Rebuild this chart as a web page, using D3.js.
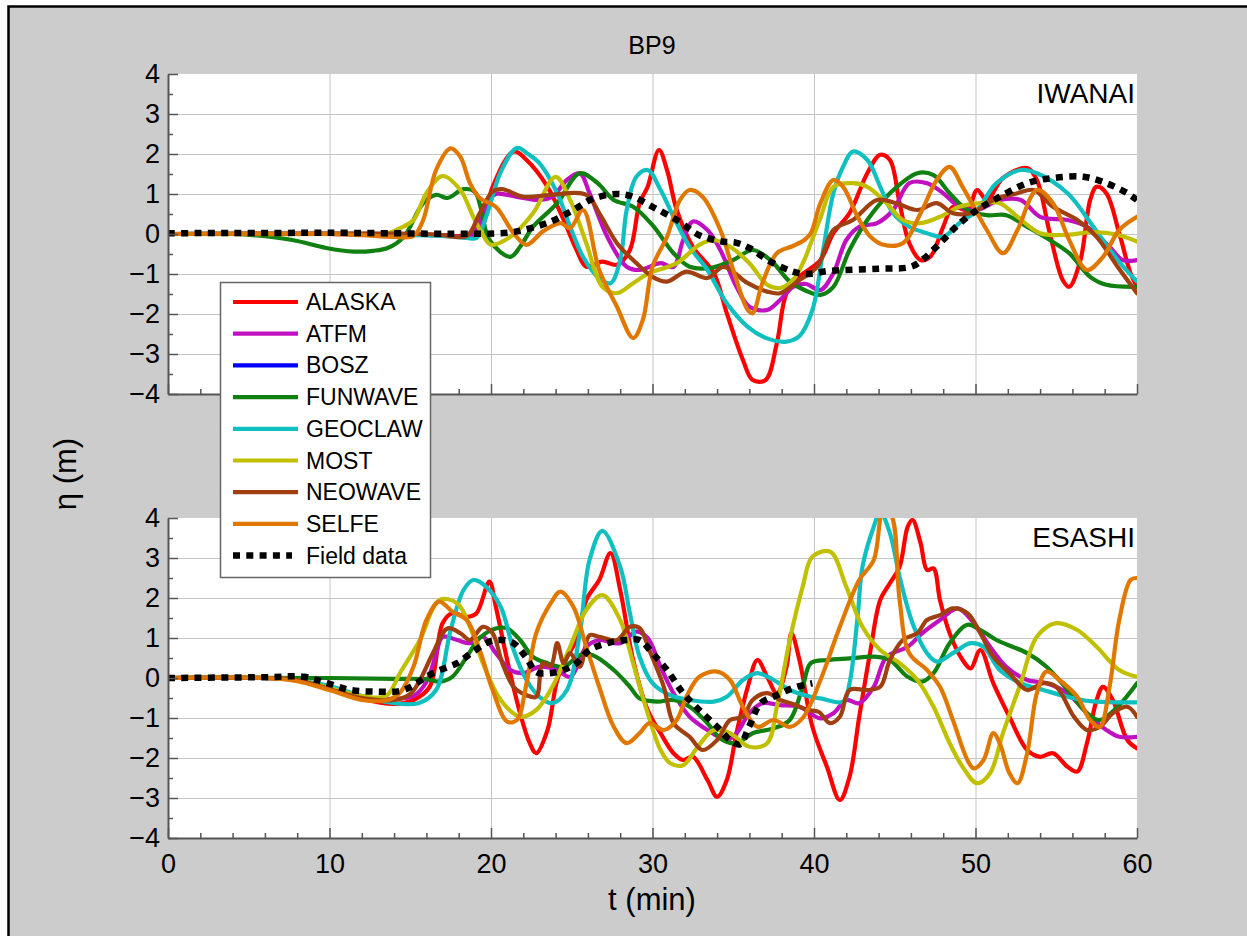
<!DOCTYPE html>
<html>
<head>
<meta charset="utf-8">
<script src="https://cdn.jsdelivr.net/npm/d3@7"></script>
<style>
  body { margin: 0; background: #fff; }
  svg { display: block; }
  text { font-family: "Liberation Sans", Arial, Helvetica, sans-serif; fill: #000; }
</style>
</head>
<body>
<svg id="chart" width="1247" height="936"></svg>
<script>
// ---- data: surface elevation eta (m) against time t (min) ----
const chartTitle = "BP9";
const xTicks = [0, 10, 20, 30, 40, 50, 60];
const yTicks = [-4, -3, -2, -1, 0, 1, 2, 3, 4];
const modelNames = ["ALASKA", "ATFM", "BOSZ", "FUNWAVE", "GEOCLAW", "MOST", "NEOWAVE", "SELFE"];
const fieldName = "Field data";
const stationNames = ["IWANAI", "ESASHI"];

// IWANAI gauge
const iwAlaska = [[0,0],[10,0],[16,-0.02],[18,-0.05],[19.3,0.1],[20.1,1.18],[21.4,2.06],[22.2,1.85],[23.5,1.18],[24.5,0.35],[25.3,-0.4],[25.9,-0.82],[26.9,-0.69],[27.8,-0.77],[28.6,-0.4],[29.2,0.77],[29.7,1.18],[30.4,2.1],[30.9,1.6],[31.5,0.6],[32.5,-0.32],[33.8,-0.98],[34.6,-1.98],[35.6,-3.15],[36.2,-3.65],[37,-3.65],[37.7,-2.73],[38.3,-1.48],[39.1,-1.07],[40.4,-0.65],[41.2,0.02],[42.2,0.52],[43.3,1.52],[44.1,1.98],[44.7,1.85],[45.3,0.77],[45.9,-0.23],[46.6,-0.65],[47.2,-0.57],[48,0.18],[48.6,0.68],[49.5,0.6],[50.1,1.1],[50.7,0.85],[51.7,1.4],[53.2,1.65],[53.8,1.35],[54.6,0.02],[55.4,-1.15],[55.8,-1.32],[56.5,-0.65],[57.1,0.85],[57.5,1.18],[58.1,1.02],[58.9,0.02],[59.6,-0.98],[60,-1.32]];
const iwAtfm = [[0,0],[10,0],[17,-0.03],[18.8,-0.05],[19.3,0.3],[19.9,0.85],[20.3,1.0],[21.6,0.93],[23,0.85],[23.8,0.93],[24.7,1.35],[25.5,1.52],[26.1,1.02],[27.2,-0.07],[28.4,-0.82],[29.2,-0.9],[30.5,-0.73],[31.3,-0.82],[31.9,-0.15],[32.5,0.31],[33.4,0.1],[34.2,-0.4],[35.2,-1.32],[36,-1.82],[37.1,-1.9],[37.9,-1.65],[38.7,-1.32],[39.5,-1.25],[40.4,-1.4],[41.2,-0.98],[42,-0.15],[42.8,0.18],[43.9,0.27],[44.9,0.6],[45.9,1.27],[47,1.27],[48,1.02],[49,0.68],[50.1,0.6],[51.5,0.85],[52.8,0.85],[54,0.43],[55.7,0.35],[56.9,0.18],[58.3,-0.32],[59.1,-0.65],[60,-0.65]];
const iwBosz = [];
const iwFunwave = [[0,0],[4,0],[5,-0.02],[7.7,-0.15],[9.8,-0.35],[11.5,-0.44],[12.7,-0.42],[13.6,-0.35],[14.6,-0.07],[15.8,0.77],[16.6,0.98],[17.3,0.9],[18.3,1.12],[19,1.05],[19.4,0.6],[19.9,-0.15],[21.2,-0.57],[21.8,-0.32],[22.6,0.18],[24.1,0.77],[25.5,1.52],[26.6,1.27],[27.6,0.85],[28.8,0.68],[30,0.22],[31.3,-0.48],[32.3,-0.82],[33.6,-0.85],[35,-0.65],[36.2,-0.4],[37.3,-0.65],[38.5,-1.19],[39.4,-1.4],[40.4,-1.52],[41.2,-1.32],[42.2,-0.4],[43.3,0.35],[44.7,1.02],[46.4,1.52],[47.4,1.47],[48.4,1.02],[49.5,0.6],[50.7,0.47],[51.9,0.47],[53.2,0.18],[54.6,-0.15],[55.8,-0.48],[57.1,-1.07],[58.1,-1.27],[60,-1.32]];
const iwGeoclaw = [[0,0],[10,0],[17,-0.05],[18.5,-0.1],[19.1,-0.1],[19.7,0.43],[20.6,1.55],[21.6,2.15],[22.3,2.0],[23,1.77],[24.1,1.02],[24.9,0.18],[25.7,-0.57],[26.6,-1.07],[27.4,-1.23],[28,-0.65],[28.4,0.6],[29,1.43],[29.7,1.6],[30.5,1.1],[31.3,0.43],[32.3,-0.32],[33.4,-0.9],[34.6,-1.73],[35.9,-2.32],[37.1,-2.61],[38.3,-2.69],[39.1,-2.55],[39.9,-1.9],[40.6,-0.32],[41.2,1.02],[41.8,1.68],[42.4,2.06],[43.3,1.85],[44.1,1.18],[44.9,0.52],[45.9,0.18],[47,0.02],[48,-0.07],[49,0.27],[50.1,0.6],[51.3,1.27],[52.8,1.6],[53.8,1.52],[55.7,1.02],[57.3,0.18],[58.8,-0.65],[60,-1.19]];
const iwMost = [[0,0],[12,0],[13.6,0.02],[14.4,0.15],[15.2,0.35],[16,1.02],[17,1.45],[18.1,1.1],[18.9,0.43],[19.4,0.05],[20,-0.27],[21.2,-0.07],[22.6,0.52],[24,1.43],[24.9,0.85],[25.9,-0.23],[26.9,-1.32],[27.8,-1.48],[28.8,-1.23],[29.8,-0.98],[31.5,-0.73],[32.9,-0.27],[33.8,-0.15],[34.8,-0.32],[36,-0.73],[37.1,-1.27],[37.9,-1.35],[38.7,-1.15],[39.4,-0.65],[39.8,-0.23],[40.4,0.4],[41.2,1.18],[42.4,1.27],[43.3,1.18],[44.5,0.77],[45.5,0.35],[46.6,0.27],[47.8,0.43],[49,0.68],[50.3,0.77],[51.5,0.77],[52.6,0.43],[54,0.02],[55.7,-0.02],[57.3,0.05],[58.8,-0.02],[60,-0.19]];
const iwNeowave = [[0,0],[16,0],[17,-0.03],[18.5,-0.05],[19.3,0.52],[20.1,1.06],[20.7,1.12],[22,0.93],[23.7,0.98],[25.9,0.98],[26.7,0.52],[27.8,-0.23],[28.8,-0.65],[30,-1.07],[30.9,-1.19],[32.1,-0.94],[33.4,-1.1],[34.4,-0.82],[35.9,-1.23],[37.1,-1.44],[37.9,-1.48],[39.1,-1.15],[40.2,-0.82],[41.2,0.1],[42.4,0.35],[43.9,0.85],[45.1,0.77],[46.4,0.6],[47.6,0.77],[48.6,0.52],[49.7,0.52],[51.1,0.85],[52.6,1.02],[53.6,1.1],[54.8,0.68],[56.3,0.35],[57.5,-0.07],[58.8,-0.82],[60,-1.48]];
const iwSelfe = [[0,0],[10,0],[12,-0.03],[14,-0.07],[15.2,-0.05],[15.8,0.35],[16.6,1.6],[17.5,2.14],[18.1,1.93],[18.7,1.27],[19.3,0.9],[20.3,0.68],[21.4,0.02],[22.2,-0.27],[23.2,0.06],[24.3,0.27],[24.9,0.15],[25.7,0.6],[26.7,-0.9],[27.8,-1.82],[28.8,-2.6],[29.4,-2.15],[30,-0.82],[30.9,-0.07],[31.7,0.85],[32.3,1.1],[33.1,0.93],[34.2,0.1],[35,-0.9],[35.9,-1.9],[36.2,-1.98],[36.8,-1.23],[37.7,-0.48],[38.7,-0.3],[39.4,-0.15],[39.8,0.02],[40.4,0.77],[41.2,1.35],[41.8,1.18],[42.7,0.43],[43.5,-0.07],[44.3,-0.27],[45.5,-0.23],[46.6,0.52],[47.6,1.35],[48.4,1.68],[49.2,1.18],[50.7,0.1],[51.7,-0.48],[52.6,0.1],[53.8,1.1],[54.8,0.77],[55.8,-0.15],[56.9,-0.9],[57.9,-0.57],[58.9,0.1],[60,0.43]];
const iwField = [[0,0.02],[10,0.03],[21,0.03],[22,0.1],[23.7,0.31],[25.1,0.6],[26.3,0.88],[27.8,1.0],[28.8,0.93],[30,0.68],[31.5,0.35],[32.9,-0.03],[34.2,-0.18],[35.2,-0.22],[36,-0.35],[37.3,-0.69],[38.7,-0.94],[39.5,-1.0],[41,-0.92],[44,-0.87],[46,-0.82],[46.7,-0.65],[47.8,-0.23],[48.9,0.22],[50.1,0.6],[51.5,0.93],[53.2,1.27],[54.8,1.4],[56.7,1.43],[58.1,1.27],[59.4,1.02],[60,0.85]];

// ESASHI gauge
const esAlaska = [[0,0],[6,0],[8,-0.05],[10,-0.25],[12,-0.52],[14,-0.65],[15.2,-0.55],[16.2,-0.22],[17,1.37],[17.6,1.62],[18.5,1.53],[19.1,1.62],[19.9,2.41],[20.3,1.78],[21,0.45],[21.8,-0.88],[22.4,-1.63],[22.8,-1.88],[23.5,-1.3],[24.1,-0.05],[24.7,0.53],[25.3,0.95],[25.9,1.95],[26.7,2.45],[27.4,3.12],[28,2.2],[28.8,0.45],[29.7,-0.8],[30.5,-1.38],[31.3,-1.88],[31.9,-2.05],[32.5,-1.97],[33.4,-2.55],[34,-2.97],[34.6,-2.55],[35.2,-1.38],[35.9,-0.22],[36.5,0.45],[37.1,0.03],[37.7,-0.38],[38.3,0.28],[38.6,1.12],[39.1,0.45],[39.9,-1.22],[40.8,-2.22],[41.6,-3.05],[42.2,-2.47],[42.8,-0.97],[43.5,0.7],[44.1,1.95],[44.7,2.37],[45.3,2.78],[45.8,3.78],[46.1,3.95],[46.6,3.37],[47,2.7],[47.4,2.74],[47.8,1.95],[48.4,1.12],[49.2,0.45],[49.7,0.24],[50.3,0.7],[51.1,-0.13],[52.1,-0.97],[53.2,-1.8],[54,-1.97],[54.8,-1.88],[55.7,-2.22],[56.3,-2.34],[56.9,-1.63],[57.5,-0.55],[57.9,-0.22],[58.5,-0.55],[59.4,-1.55],[60,-1.76]];
const esAtfm = [[0,0],[6,0],[8,-0.05],[10,-0.25],[12,-0.48],[14,-0.52],[15.2,-0.45],[16,-0.1],[16.6,0.6],[17,1.03],[17.9,0.95],[18.7,0.87],[19.5,1.03],[20.3,0.62],[21.2,0.2],[22,0.12],[23,0.28],[24.1,0.2],[24.9,0.03],[25.9,0.78],[26.7,0.95],[28,0.87],[29,1.16],[29.7,1.0],[30.5,0.28],[31.3,-0.38],[32.3,-0.97],[33.4,-1.3],[34.6,-1.55],[35.2,-1.38],[36,-0.88],[36.8,-0.63],[37.9,-0.68],[39.1,-0.72],[40.4,-1.01],[41.2,-0.88],[42,-0.55],[42.8,-0.63],[43.7,-0.22],[44.5,0.53],[45.8,0.78],[46.7,1.12],[47.8,1.45],[48.9,1.74],[49.9,1.37],[50.9,0.78],[51.9,0.28],[53.2,-0.05],[54.4,-0.13],[55.7,-0.38],[56.9,-0.88],[58.1,-1.3],[58.9,-1.47],[60,-1.47]];
const esBosz = [];
const esFunwave = [[0,0],[10,0],[14,-0.02],[16,-0.03],[16.8,-0.09],[17.6,0.03],[18.5,0.53],[19.3,1.0],[20.3,1.24],[21,1.24],[21.8,0.95],[22.6,0.53],[23.5,0.37],[24.5,0.28],[25.5,0.57],[26.3,0.57],[27.6,0.2],[28.6,-0.22],[29.2,-0.51],[30.3,-0.59],[31.3,-0.55],[32.3,-0.72],[33.4,-1.13],[34.2,-1.51],[35.2,-1.63],[36.2,-1.38],[37.5,-1.26],[38.5,-1.05],[39.3,-0.22],[39.8,0.37],[40.8,0.45],[42.2,0.49],[43.9,0.53],[44.7,0.45],[45.8,0.03],[46.7,-0.09],[47.4,0.12],[48.4,0.87],[49.5,1.33],[50.3,1.2],[51.3,0.95],[53.2,0.62],[54.4,0.28],[55.7,-0.3],[56.9,-0.88],[57.7,-1.05],[58.8,-0.72],[60,-0.13]];
const esGeoclaw = [[0,0],[6,0],[8,-0.05],[10,-0.2],[12,-0.45],[13.5,-0.6],[15.5,-0.63],[16.6,-0.3],[17.5,1.2],[18.3,2.2],[18.9,2.45],[19.7,2.28],[20.6,1.78],[21.4,0.7],[22.2,-0.05],[23,-0.47],[23.8,-0.63],[24.7,-0.3],[25.5,1.12],[26.1,2.95],[26.9,3.68],[28,2.78],[28.6,1.62],[29.2,0.53],[30,-0.13],[31.1,-0.43],[32.3,-0.55],[33.8,-0.59],[34.6,-0.47],[35.6,-0.05],[36.5,0.12],[37.5,-0.05],[38.5,-0.3],[39.8,-0.47],[40.4,-0.51],[41.8,-0.59],[42.2,-0.13],[42.7,1.53],[43,2.78],[43.7,3.78],[44.1,4.15],[44.7,3.62],[45.3,2.53],[46.1,1.37],[47,0.62],[47.6,0.41],[48.6,0.62],[49.7,0.87],[50.5,0.78],[51.5,0.2],[52.8,-0.13],[54.2,-0.3],[55.7,-0.47],[57.1,-0.58],[60,-0.61]];
const esMost = [[0,0],[6,0],[8,-0.05],[10,-0.25],[12,-0.45],[13.5,-0.45],[14.4,0.15],[15.6,0.95],[16.8,1.95],[17.9,1.87],[18.7,1.28],[19.5,0.37],[20.6,-0.55],[21.8,-0.97],[22.8,-0.8],[23.8,-0.22],[24.9,0.78],[25.9,1.7],[26.9,2.07],[28,1.45],[28.8,0.37],[29.7,-0.88],[30.5,-1.8],[31.1,-2.13],[31.9,-2.18],[32.8,-1.72],[33.8,-1.3],[34.8,-1.38],[36,-1.72],[37.1,-1.63],[37.7,-0.72],[38.5,0.95],[39.3,2.28],[39.9,3.03],[41,3.16],[42,2.28],[43,1.28],[44.1,0.7],[45.3,0.37],[46.4,-0.05],[47.4,-0.72],[48.4,-1.63],[49.2,-2.22],[50.1,-2.63],[50.9,-2.38],[51.7,-1.38],[52.8,-0.13],[53.8,1.03],[55,1.37],[56.3,1.2],[57.5,0.78],[58.9,0.2],[60,0.03]];
const esNeowave = [[0,0],[6,0],[8,-0.05],[10,-0.28],[12,-0.5],[14,-0.55],[15,-0.4],[15.6,-0.05],[16.4,0.62],[17.3,1.24],[18.1,1.12],[18.7,0.95],[19.5,1.28],[20.1,1.12],[20.7,0.37],[21.4,-0.22],[22.2,-0.43],[22.8,-0.47],[23.2,0.37],[23.7,0.3],[24.1,0.87],[24.5,0.37],[24.9,0.62],[25.5,0.28],[26.1,1.07],[26.7,1.03],[27.8,0.95],[28.6,1.28],[29.2,1.25],[29.8,0.7],[30.7,-0.22],[31.3,-1.13],[32.3,-1.47],[33.1,-1.8],[34,-1.55],[34.8,-1.05],[35.6,-0.97],[36.2,-0.55],[37.1,-0.38],[37.9,-0.55],[38.7,-0.65],[39.6,-0.8],[40.3,-0.85],[41,-1.13],[41.6,-0.97],[42.2,-0.3],[43.3,-0.3],[44.1,-0.22],[44.7,0.45],[45.5,0.95],[46.4,1.12],[47,1.45],[47.8,1.57],[48.6,1.74],[49.5,1.62],[50.3,1.12],[51.1,0.53],[52.1,0.12],[53.2,-0.3],[54.2,-0.13],[55,-0.22],[56.1,-0.97],[56.9,-1.3],[57.7,-1.22],[58.5,-0.88],[59.4,-0.72],[60,-0.97]];
const esSelfe = [[0,0],[6,0],[8,-0.08],[10,-0.3],[12,-0.55],[13.6,-0.55],[14.4,-0.35],[15.2,0.28],[16,1.45],[16.8,1.91],[17.6,1.66],[18.5,1.45],[19.3,0.7],[20.1,-0.3],[21,-1.09],[21.6,-1.05],[22.2,-0.13],[22.8,1.12],[23.7,1.87],[24.3,2.16],[25.1,1.78],[25.9,0.78],[26.7,-0.22],[27.6,-1.22],[28.4,-1.63],[29.2,-1.38],[29.8,-1.13],[30.7,-1.3],[31.5,-1.05],[32.1,-0.47],[32.9,0.03],[34,0.16],[34.8,-0.05],[35.6,-0.72],[36.5,-1.22],[37.5,-1.05],[38.5,-1.22],[39.3,-1.0],[40.4,-0.05],[41.6,1.28],[42.8,2.45],[43.7,2.95],[44.3,4.2],[44.8,4.05],[45.3,1.95],[45.9,0.62],[47,0.2],[47.8,-0.22],[48.6,-1.05],[49.5,-2.05],[49.9,-2.26],[50.5,-2.05],[51.1,-1.38],[51.5,-1.63],[52.1,-2.38],[52.6,-2.63],[53.2,-1.88],[53.8,-0.38],[54.4,0.16],[55.2,-0.05],[56.3,-0.47],[57.1,-1.05],[57.7,-1.22],[58.3,-0.22],[58.9,1.45],[59.6,2.45],[60,2.5]];
const esField = [[0,0],[6,0.02],[8.4,0.03],[9.8,-0.12],[11.3,-0.3],[12.9,-0.34],[14.4,-0.32],[15.2,-0.18],[15.8,-0.02],[16.6,0.16],[17.9,0.37],[18.9,0.66],[19.9,0.91],[20.7,0.95],[21.4,0.87],[22.2,0.5],[22.8,0.15],[23.6,0.12],[24.5,0.2],[25.3,0.37],[26.1,0.7],[27.2,0.87],[28.4,0.95],[29.2,0.95],[30,0.62],[30.9,0.2],[31.9,-0.38],[32.9,-0.8],[34,-1.22],[34.8,-1.55],[35.4,-1.66],[36,-1.2],[36.7,-0.63],[37.7,-0.43],[38.7,-0.25],[39.9,-0.13]];

// ---- styling ----
const modelColors = ["#ff0000", "#c010c0", "#0000ff", "#108010", "#10c0c0", "#c0c000", "#a04010", "#e07800"];
const W = 1247, H = 936;
const plotLeft = 168, plotRight = 1137;
const panelTops = [74, 518];
const panelHeight = 320;

const iwanaiModels = [iwAlaska, iwAtfm, iwBosz, iwFunwave, iwGeoclaw, iwMost, iwNeowave, iwSelfe];
const esashiModels = [esAlaska, esAtfm, esBosz, esFunwave, esGeoclaw, esMost, esNeowave, esSelfe];
const panels = [
  { name: stationNames[0], models: iwanaiModels, field: iwField, showX: false },
  { name: stationNames[1], models: esashiModels, field: esField, showX: true }
];

const svg = d3.select("#chart");

// outer frame and grey page
svg.append("rect").attr("x", 0).attr("y", 0).attr("width", W).attr("height", H).attr("fill", "#ffffff");
svg.append("rect").attr("x", 8.5).attr("y", 6.5).attr("width", W + 20).attr("height", H + 20)
  .attr("fill", "#cccccc").attr("stroke", "#000").attr("stroke-width", 2.5);

const x = d3.scaleLinear().domain([0, 60]).range([plotLeft, plotRight]);

panels.forEach((p, pi) => {
  const top = panelTops[pi];
  const y = d3.scaleLinear().domain([-4, 4]).range([top + panelHeight, top]);
  const g = svg.append("g");

  // white plotting area
  g.append("rect").attr("x", plotLeft).attr("y", top)
    .attr("width", plotRight - plotLeft).attr("height", panelHeight).attr("fill", "#fff");

  // grid
  const grid = g.append("g").attr("stroke", "#c4c4c4").attr("stroke-width", 1);
  grid.selectAll("line.gx").data(xTicks.slice(1, -1)).join("line")
    .attr("x1", d => x(d) + 0.5).attr("x2", d => x(d) + 0.5)
    .attr("y1", top).attr("y2", top + panelHeight);
  grid.selectAll("line.gy").data(yTicks.slice(1, -1)).join("line")
    .attr("x1", plotLeft).attr("x2", plotRight)
    .attr("y1", d => Math.round(y(d)) + 0.5).attr("y2", d => Math.round(y(d)) + 0.5);

  // clipped series
  const clipId = "clip" + pi;
  svg.append("clipPath").attr("id", clipId).append("rect")
    .attr("x", plotLeft).attr("y", top).attr("width", plotRight - plotLeft).attr("height", panelHeight);
  const line = d3.line().x(d => x(d[0])).y(d => y(d[1])).curve(d3.curveCatmullRom.alpha(0.5));
  const series = g.append("g").attr("clip-path", `url(#${clipId})`);
  p.models.forEach((data, i) => {
    if (!data.length) return;
    series.append("path").datum(data).attr("d", line)
      .attr("fill", "none").attr("stroke", modelColors[i]).attr("stroke-width", 4.2)
      .attr("stroke-linejoin", "round").attr("stroke-linecap", "round");
  });
  series.append("path").datum(p.field).attr("d", line)
    .attr("fill", "none").attr("stroke", "#000").attr("stroke-width", 6.5)
    .attr("stroke-dasharray", "7 6.3");

  // station label
  g.append("text").attr("x", plotRight - 2).attr("y", top + 29)
    .attr("text-anchor", "end").attr("font-size", 28).text(p.name);

  // axes with inward ticks
  const axisColor = "#555";
  const xMinor = d3.range(0, 61, 2).filter(v => v % 10 !== 0);
  const yMinor = d3.range(-3.5, 4, 1);

  const xAxis = d3.axisBottom(x).tickValues(xTicks).tickSizeInner(-10).tickSizeOuter(0).tickPadding(16)
    .tickFormat(p.showX ? d3.format("d") : () => "");
  const gx = g.append("g").attr("transform", `translate(0,${top + panelHeight})`).call(xAxis);
  gx.append("g").call(d3.axisBottom(x).tickValues(xMinor).tickSizeInner(-5).tickSizeOuter(0).tickFormat(() => ""))
    .select(".domain").remove();

  const yAxis = d3.axisLeft(y).tickValues(yTicks).tickSizeInner(-10).tickSizeOuter(0).tickPadding(8)
    .tickFormat(d3.format("d"));
  const gy = g.append("g").attr("transform", `translate(${plotLeft},0)`).call(yAxis);
  gy.append("g").call(d3.axisLeft(y).tickValues(yMinor).tickSizeInner(-5).tickSizeOuter(0).tickFormat(() => ""))
    .select(".domain").remove();

  [gx, gy].forEach(a => {
    a.selectAll(".domain").attr("stroke", axisColor).attr("stroke-width", 2);
    a.selectAll(".tick line").attr("stroke", axisColor).attr("stroke-width", 1.5);
    a.selectAll(".tick text").attr("font-size", 27).attr("fill", "#000")
      .style("font-family", '"Liberation Sans", Arial, sans-serif');
  });
});

// titles
svg.append("text").attr("x", 652).attr("y", 54).attr("text-anchor", "middle")
  .attr("font-size", 25).text(chartTitle);
svg.append("text").attr("x", 652).attr("y", 910).attr("text-anchor", "middle")
  .attr("font-size", 31).text("t (min)");
svg.append("text").attr("transform", "translate(76,474) rotate(-90)").attr("text-anchor", "middle")
  .attr("font-size", 31).text("η (m)");

// legend
const legend = svg.append("g");
legend.append("rect").attr("x", 220.5).attr("y", 282.5).attr("width", 210).attr("height", 295)
  .attr("fill", "#fff").attr("stroke", "#666").attr("stroke-width", 1.5);
const legendItems = modelNames.map((n, i) => ({ name: n, color: modelColors[i], dash: null }))
  .concat([{ name: fieldName, color: "#000", dash: "7 6.3" }]);
legendItems.forEach((it, i) => {
  const ly = 302 + i * 31.7;
  legend.append("line").attr("x1", 233).attr("x2", it.dash ? 292 : 298).attr("y1", ly).attr("y2", ly)
    .attr("stroke", it.color).attr("stroke-width", it.dash ? 6.5 : 4.2)
    .attr("stroke-dasharray", it.dash);
  legend.append("text").attr("x", 306).attr("y", ly + 8).attr("font-size", 23).text(it.name);
});
</script>
</body>
</html>
